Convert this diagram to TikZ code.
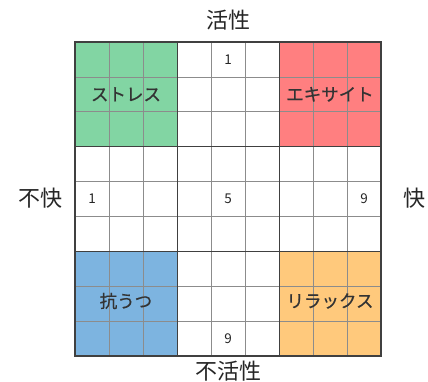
\documentclass[tikz,border=0pt]{standalone}
\usepackage{fontspec}
\newfontfamily\jp{Noto Sans CJK JP}
\newfontfamily\jpb[FakeBold=0.6]{Noto Sans CJK JP}
\definecolor{cgreen}{HTML}{82D5A3}
\definecolor{cred}{HTML}{FF7F80}
\definecolor{cblue}{HTML}{7DB4E0}
\definecolor{corange}{HTML}{FFC97C}
\begin{document}
\begin{tikzpicture}[x=1pt,y=-1pt,
  axislabel/.style={font=\jp\fontsize{22}{24}\selectfont,text=black!85,inner sep=0},
  quadlabel/.style={font=\jpb\fontsize{17.5}{19}\selectfont,text=black!80,inner sep=0},
  numlabel/.style={font=\jp\fontsize{13.5}{15}\selectfont,text=black!85,inner sep=0},
  minorline/.style={draw=black!45,line width=0.6pt},
  majorline/.style={draw=black!75,line width=0.9pt}]
\useasboundingbox (0,0) rectangle (428,382);
\fill[white] (0,0) rectangle (428,382);
% quadrants
\fill[cgreen] (75,42) rectangle (177,146.7);
\fill[cred] (279,42) rectangle (381,146.7);
\fill[cblue] (75,251.3) rectangle (177,356);
\fill[corange] (279,251.3) rectangle (381,356);
% minor lines
\foreach \i in {1,2,4,5,7,8} {
  \draw[minorline] (75+\i*34,42) -- (75+\i*34,356);
  \draw[minorline] (75,42+\i*34.889) -- (381,42+\i*34.889);
}
% major lines
\foreach \i in {3,6} {
  \draw[majorline] (75+\i*34,42) -- (75+\i*34,356);
  \draw[majorline] (75,42+\i*34.889) -- (381,42+\i*34.889);
}
\draw[majorline,line width=1.1pt] (75,42) rectangle (381,356);
% labels
\node[axislabel] (top) at (228,20) {活性};
\node[axislabel] (bottom) at (228,371) {不活性};
\node[axislabel] (left) at (40,198) {不快};
\node[axislabel] (right) at (414,198) {快};
\node[quadlabel] (stress) at (126,94.3) {ストレス};
\node[quadlabel] (excite) at (330,94.3) {エキサイト};
\node[quadlabel] (depress) at (126,301) {抗うつ};
\node[quadlabel] (relax) at (330,301) {リラックス};
\node[numlabel] (n1t) at (228,59.4) {1};
\node[numlabel] (n1l) at (92,199) {1};
\node[numlabel] (n5) at (228,199) {5};
\node[numlabel] (n9r) at (364,199) {9};
\node[numlabel] (n9b) at (228,338.5) {9};
\end{tikzpicture}
\end{document}
